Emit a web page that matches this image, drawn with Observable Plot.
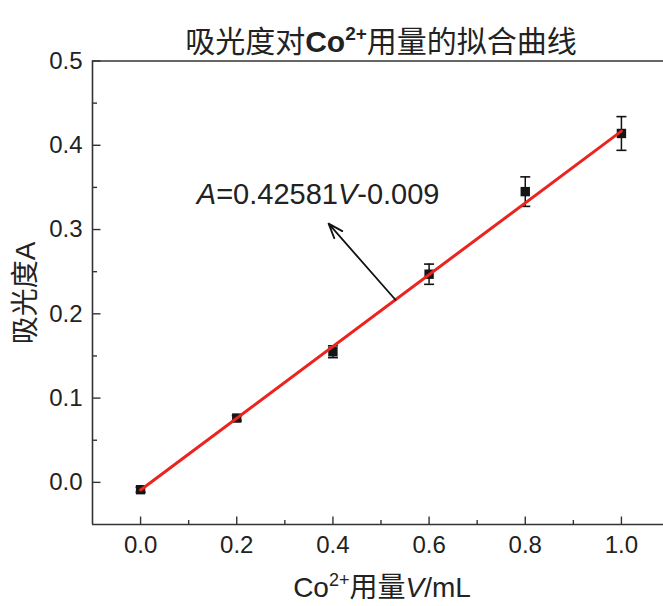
<!DOCTYPE html>
<html>
<head>
<meta charset="utf-8">
<script src="https://cdn.jsdelivr.net/npm/d3@7"></script>
<script src="https://cdn.jsdelivr.net/npm/@observablehq/plot@0.6"></script>
<style>
  html, body { margin: 0; padding: 0; background: #fff; overflow: hidden; }
  svg { display: block; }
</style>
</head>
<body>
<div id="chart"></div>
<script>
// ---- data ----
const volumes = [0, 0.2, 0.4, 0.6, 0.8, 1.0];            // Co2+ 用量 V / mL
const absorbance = [-0.0087, 0.0763, 0.155, 0.247, 0.345, 0.414];
const absErr = [0.003, 0.003, 0.007, 0.012, 0.0175, 0.020];
const slope = 0.42581;
const intercept = -0.009;
const xDomain = [-0.1, 1.0875];
const yDomain = [-0.05, 0.5];
const xTicks = [0, 0.2, 0.4, 0.6, 0.8, 1.0];
const xMinorTicks = [0.1, 0.3, 0.5, 0.7, 0.9];
const yTicks = [0, 0.1, 0.2, 0.3, 0.4, 0.5];
const yMinorTicks = [0.05, 0.15, 0.25, 0.35, 0.45];
const annotPos = {V: 0.118, A: 0.33};
const arrowFrom = {V: 0.53}, arrowTo = {V: 0.391, A: 0.307};

const points = volumes.map((v, i) => ({V: v, A: absorbance[i], lo: absorbance[i] - absErr[i], hi: absorbance[i] + absErr[i]}));
const fit = [{V: 0, A: intercept}, {V: 1, A: slope + intercept}];
const arrowData = [{x1: arrowFrom.V, y1: slope * arrowFrom.V + intercept, x2: arrowTo.V, y2: arrowTo.A}];

// custom symbols
const capSym = {draw(ctx, size) { const r = Math.sqrt(size / Math.PI); ctx.moveTo(-r, 0); ctx.lineTo(r, 0); }};
const tickUp = {draw(ctx, size) { const r = Math.sqrt(size / Math.PI); ctx.moveTo(0, 0); ctx.lineTo(0, -r); }};
const tickRight = {draw(ctx, size) { const r = Math.sqrt(size / Math.PI); ctx.moveTo(0, 0); ctx.lineTo(r, 0); }};

const font = "'Liberation Sans', Arial, 'Noto Sans CJK SC', sans-serif";
const axisColor = "#333";

const plot = Plot.plot({
  width: 663,
  height: 606,
  marginLeft: 92,
  marginRight: 0,
  marginTop: 60.5,
  marginBottom: 82,
  style: {fontFamily: font, background: "#fff", color: "#222"},
  x: {domain: xDomain},
  y: {domain: yDomain},
  marks: [
    // error bars
    Plot.ruleX(points, {x: "V", y1: "lo", y2: "hi", stroke: "#111", strokeWidth: 1.5}),
    Plot.dot(points, {x: "V", y: "hi", symbol: capSym, r: 5, stroke: "#111", strokeWidth: 1.6, fill: "none"}),
    Plot.dot(points, {x: "V", y: "lo", symbol: capSym, r: 5, stroke: "#111", strokeWidth: 1.6, fill: "none"}),
    // squares
    Plot.dot(points, {x: "V", y: "A", symbol: "square", r: 5.3, fill: "#151515", stroke: "none"}),
    // fit line
    Plot.line(fit, {x: "V", y: "A", stroke: "#ec2420", strokeWidth: 3}),
    // annotation arrow
    Plot.arrow(arrowData, {x1: "x1", y1: "y1", x2: "x2", y2: "y2", stroke: "#111", strokeWidth: 1.8, headLength: 13, headAngle: 40}),
    // frame (top, bottom, left)
    Plot.ruleY([yDomain[1]], {stroke: axisColor, strokeWidth: 1.6}),
    Plot.ruleY([yDomain[0]], {stroke: axisColor, strokeWidth: 1.6}),
    Plot.ruleX([xDomain[0]], {stroke: axisColor, strokeWidth: 1.6}),
    // inward ticks
    Plot.dot(xTicks, {x: d => d, frameAnchor: "bottom", symbol: tickUp, r: 8, stroke: axisColor, strokeWidth: 1.4, fill: "none"}),
    Plot.dot(xMinorTicks, {x: d => d, frameAnchor: "bottom", symbol: tickUp, r: 4.5, stroke: axisColor, strokeWidth: 1.4, fill: "none"}),
    Plot.dot(yTicks, {y: d => d, frameAnchor: "left", symbol: tickRight, r: 8, stroke: axisColor, strokeWidth: 1.4, fill: "none"}),
    Plot.dot(yMinorTicks, {y: d => d, frameAnchor: "left", symbol: tickRight, r: 4.5, stroke: axisColor, strokeWidth: 1.4, fill: "none"}),
    // tick labels
    Plot.axisX({ticks: xTicks, tickSize: 0, tickPadding: 11, tickFormat: d3.format(".1f"), fontSize: 24, label: null, fill: "#222"}),
    Plot.axisY({ticks: yTicks, tickSize: 0, tickPadding: 10, tickFormat: d3.format(".1f"), fontSize: 24, label: null, fill: "#222"})
  ]
});

document.getElementById("chart").appendChild(plot);

const svg = d3.select(plot);
const xs = plot.scale("x"), ys = plot.scale("y");

// title
const title = svg.append("text")
  .attr("x", 381).attr("y", 52)
  .attr("text-anchor", "middle")
  .style("font-family", font)
  .style("font-size", "30px")
  .attr("fill", "#222");
title.append("tspan").text("吸光度对");
title.append("tspan").style("font-weight", "bold").text("Co");
title.append("tspan").style("font-weight", "bold").style("font-size", "19px").attr("dy", "-12").text("2+");
title.append("tspan").attr("dy", "12").text("用量的拟合曲线");

// y label
const yl = svg.append("text")
  .attr("transform", "translate(35,293) rotate(-90)")
  .attr("text-anchor", "middle")
  .style("font-family", font)
  .style("font-size", "28px")
  .attr("fill", "#222");
yl.append("tspan").text("吸光度");
yl.append("tspan").text("A");

// x label
const xl = svg.append("text")
  .attr("x", 382).attr("y", 597)
  .attr("text-anchor", "middle")
  .style("font-family", font)
  .style("font-size", "28px")
  .attr("fill", "#222");
xl.append("tspan").text("Co");
xl.append("tspan").style("font-size", "18px").attr("dy", "-11").text("2+");
xl.append("tspan").attr("dy", "11").text("用量");
xl.append("tspan").style("font-style", "italic").text("V");
xl.append("tspan").text("/mL");

// equation annotation
const eq = svg.append("text")
  .attr("x", xs.apply(annotPos.V)).attr("y", ys.apply(annotPos.A))
  .attr("text-anchor", "start")
  .style("font-family", font)
  .style("font-size", "29px")
  .attr("fill", "#222");
eq.append("tspan").style("font-style", "italic").text("A");
eq.append("tspan").text("=0.42581");
eq.append("tspan").style("font-style", "italic").text("V");
eq.append("tspan").text("-0.009");
</script>
</body>
</html>
